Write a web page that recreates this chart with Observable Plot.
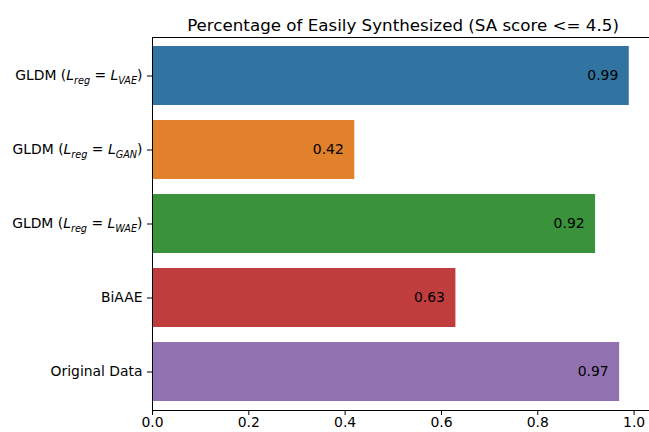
<!DOCTYPE html>
<html>
<head>
<meta charset="utf-8">
<script src="https://cdn.jsdelivr.net/npm/d3@7"></script>
<script src="https://cdn.jsdelivr.net/npm/@observablehq/plot@0.6"></script>
<style>
  html, body { margin: 0; padding: 0; background: white; }
  #chart svg text tspan { white-space: pre; }
</style>
</head>
<body>
<div id="chart"></div>
<script>
const title = "Percentage of Easily Synthesized (SA score <= 4.5)";
const categories = [
  "GLDM ($L_{reg} = L_{VAE}$)",
  "GLDM ($L_{reg} = L_{GAN}$)",
  "GLDM ($L_{reg} = L_{WAE}$)",
  "BiAAE",
  "Original Data"
];
const values = [0.99, 0.42, 0.92, 0.63, 0.97];
const colors = ["#3274a1", "#e1812c", "#3a923a", "#c03d3e", "#9372b2"];
const xTicks = [0.0, 0.2, 0.4, 0.6, 0.8, 1.0];

const data = categories.map((c, i) => ({category: c, value: values[i]}));

const FS = 13.9;
const chart = Plot.plot({
  width: 649,
  height: 432,
  marginLeft: 152,
  marginRight: 0,
  marginTop: 37,
  marginBottom: 22,
  style: {fontFamily: "DejaVu Sans", fontSize: FS + "px", color: "black", background: "white"},
  x: {domain: [0, 1.032]},
  y: {domain: categories, paddingInner: 0.2, paddingOuter: 0.1},
  color: {domain: categories, range: colors},
  marks: [
    Plot.barX(data, {x: "value", y: "category", fill: "category"}),
    Plot.text(data, {x: "value", y: "category", text: d => d.value.toFixed(2), textAnchor: "end", dx: -11, fill: "black", fontSize: FS}),
    Plot.axisX({ticks: xTicks, tickSize: 5, tickPadding: 2, tickFormat: d3.format(".1f"), label: null, fontSize: FS}),
    Plot.axisY({tickSize: 5, tickPadding: 5, label: null, fontSize: FS}),
    Plot.frame({anchor: "top", stroke: "black"}),
    Plot.frame({anchor: "left", stroke: "black"}),
    Plot.frame({anchor: "bottom", stroke: "black"}),
    Plot.text([title], {frameAnchor: "top", dy: -18, dx: 2, fontSize: 16.7, fill: "black"})
  ]
});

const NS = "http://www.w3.org/2000/svg";
function rich(t, s) {
  t.textContent = "";
  const [pre, math, post] = s.split("$");
  let cur = 0;
  const add = (txt, target, attrs) => {
    const ts = document.createElementNS(NS, "tspan");
    ts.textContent = txt;
    const dy = target - cur;
    if (dy) ts.setAttribute("dy", dy);
    cur = target;
    for (const k in attrs || {}) ts.setAttribute(k, attrs[k]);
    t.appendChild(ts);
  };
  add(pre, 0);
  const parts = math.split(/(\w)_\{(\w+)\}/);
  parts.forEach((p, i) => {
    if (!p) return;
    const k = i % 3;
    if (k === 0) add(p, 0);
    else if (k === 1) add(p, 0, {"font-style": "italic"});
    else add(p, 3.3, {"font-style": "italic", "font-size": 9.7});
  });
  add(post, 0);
}
chart.querySelectorAll('g[aria-label="y-axis tick label"] text').forEach(t => {
  const s = t.textContent;
  if (s.includes("$")) rich(t, s);
});
document.getElementById("chart").appendChild(chart);
</script>
</body>
</html>
